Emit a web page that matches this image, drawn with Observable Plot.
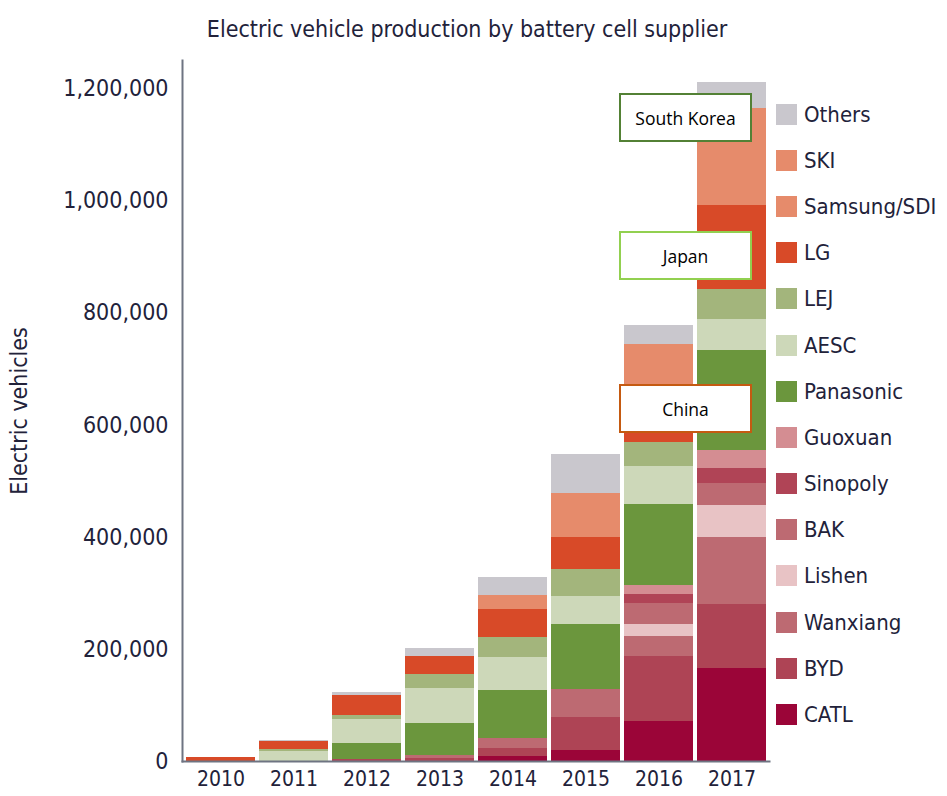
<!DOCTYPE html>
<html>
<head>
<meta charset="utf-8">
<script src="https://cdn.jsdelivr.net/npm/d3@7"></script>
<script src="https://cdn.jsdelivr.net/npm/@observablehq/plot@0.6"></script>
<style>
  body { margin: 0; background: #fff; }
  #wrap { position: relative; width: 947px; height: 796px; font-family: "DejaVu Sans Condensed", "DejaVu Sans", sans-serif; color: #22223a; }
  #chart { position: absolute; left: 0; top: 0; }
  #title { position: absolute; left: 0; width: 934px; top: 15px; text-align: center; font-size: 23px; line-height: 28px; white-space: nowrap; }
  #legend { position: absolute; left: 776px; top: 91px; }
  .item { height: 46.2px; display: flex; align-items: center; font-size: 22px; white-space: nowrap; }
  .sw { width: 21px; height: 21px; margin-right: 7px; flex: none; }
  .note { position: absolute; left: 619px; width: 133px; height: 49px; box-sizing: border-box; border: 2.5px solid; background: #fff;
          display: flex; align-items: center; justify-content: center; font-family: "Open Sans", sans-serif; font-size: 17.5px; color: #000; }
</style>
</head>
<body>
<div id="wrap">
  <div id="chart"></div>
  <div id="title"></div>
  <div id="legend"></div>
</div>
<script>
// ---- data (vehicles) ----
const years = ["2010", "2011", "2012", "2013", "2014", "2015", "2016", "2017"];
const suppliers = ["Others", "SKI", "Samsung/SDI", "LG", "LEJ", "AESC", "Panasonic", "Guoxuan", "Sinopoly", "BAK", "Lishen", "Wanxiang", "BYD", "CATL"];
const colors = ["#c9c7cd", "#e68b6b", "#e68b6b", "#d84a28", "#a3b57c", "#cdd8b9", "#6b963d", "#d48d92", "#b04456", "#bd6a72", "#e8c3c5", "#bd6a72", "#ae4455", "#9b0538"];

const Others     = [1000, 1500, 5000, 14000, 32000, 71000, 34000, 46000];
const SKI        = [0, 0, 0, 0, 0, 16000, 22000, 62000];
const Samsung    = [0, 0, 0, 0, 25000, 62000, 97000, 110000];
const LG         = [7000, 15000, 36000, 32000, 50000, 56000, 55000, 151000];
const LEJ        = [0, 3000, 7000, 25000, 36000, 49000, 43000, 53000];
const AESC       = [0, 18000, 43000, 62000, 59000, 49000, 68000, 56000];
const Panasonic  = [0, 0, 28000, 57000, 85000, 117000, 145000, 177000];
const Guoxuan    = [0, 0, 0, 0, 0, 0, 15000, 32000];
const Sinopoly   = [0, 0, 0, 0, 0, 0, 17000, 28000];
const BAK        = [0, 0, 0, 0, 0, 0, 37000, 38000];
const Lishen     = [0, 0, 0, 0, 0, 0, 21000, 58000];
const Wanxiang   = [0, 0, 0, 6000, 18000, 49000, 36000, 119000];
const BYD        = [0, 0, 3500, 5000, 14000, 60000, 116000, 114000];
const CATL       = [0, 0, 0, 0, 9000, 19000, 71000, 166000];

const yTicks = [0, 200000, 400000, 600000, 800000, 1000000, 1200000];
const titleText = "Electric vehicle production by battery cell supplier";
const yLabel = "Electric vehicles";
const notes = [
  {text: "South Korea", top: 93, color: "#538135"},
  {text: "Japan", top: 231, color: "#92d050"},
  {text: "China", top: 384, color: "#c55a11"}
];

const series = {Others, SKI, "Samsung/SDI": Samsung, LG, LEJ, AESC, Panasonic, Guoxuan, Sinopoly, BAK, Lishen, Wanxiang, BYD, CATL};
const rows = [];
for (const s of suppliers) years.forEach((yr, i) => rows.push({year: yr, supplier: s, value: series[s][i]}));
const stackOrder = suppliers.slice().reverse(); // bottom to top

const chart = Plot.plot({
  width: 947,
  height: 796,
  marginLeft: 182,
  marginRight: 178,
  marginTop: 60,
  marginBottom: 35,
  style: {fontFamily: "'DejaVu Sans Condensed', 'DejaVu Sans', sans-serif", color: "#22223a", background: "transparent"},
  x: {domain: years, paddingInner: 0.06, paddingOuter: 0.01, round: true},
  y: {domain: [0, 1250000], round: true},
  color: {domain: suppliers, range: colors},
  marks: [
    Plot.barY(rows, Plot.stackY({order: stackOrder}, {x: "year", y: "value", fill: "supplier", shapeRendering: "crispEdges"})),
    Plot.frame({anchor: "left", stroke: "#6e7482", strokeWidth: 2}),
    Plot.frame({anchor: "bottom", stroke: "#6e7482", strokeWidth: 2}),
    Plot.axisY({ticks: yTicks, tickFormat: d3.format(","), tickSize: 0, tickPadding: 14, fontSize: 23,
                label: yLabel, labelAnchor: "center", labelArrow: "none", labelOffset: 172}),
    Plot.axisX({tickSize: 0, tickPadding: 10, fontSize: 21, label: null})
  ]
});
document.getElementById("chart").appendChild(chart);
// y label font size
chart.querySelectorAll("g[aria-label='y-axis label'] text, g[aria-label='y-axis label']").forEach(e => e.setAttribute("font-size", "23"));

document.getElementById("title").textContent = titleText;

const legend = document.getElementById("legend");
suppliers.forEach((s, i) => {
  const it = document.createElement("div");
  it.className = "item";
  const sw = document.createElement("span");
  sw.className = "sw";
  sw.style.background = colors[i];
  it.appendChild(sw);
  it.appendChild(document.createTextNode(s));
  legend.appendChild(it);
});

const wrap = document.getElementById("wrap");
notes.forEach(n => {
  const d = document.createElement("div");
  d.className = "note";
  d.style.top = n.top + "px";
  d.style.borderColor = n.color;
  d.textContent = n.text;
  wrap.appendChild(d);
});
</script>
</body>
</html>
